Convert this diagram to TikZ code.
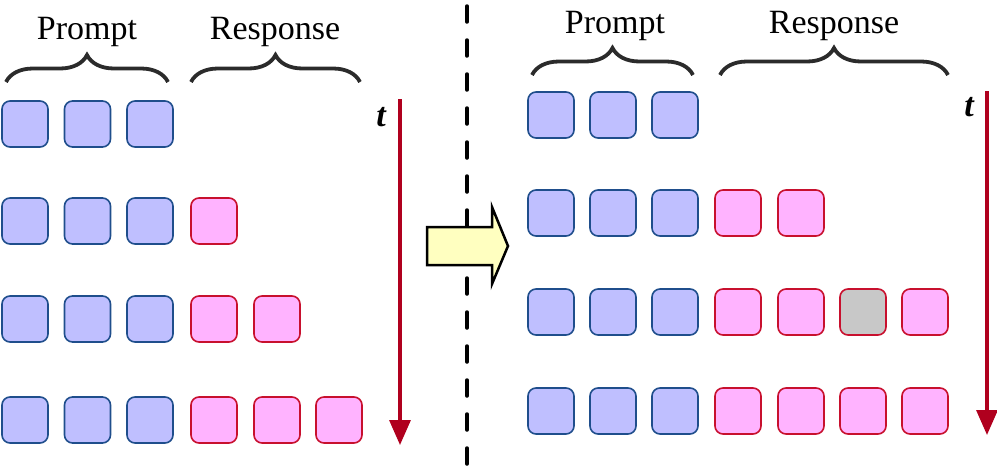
\documentclass[tikz,border=0pt]{standalone}
\usepackage{fontspec}
\setmainfont{Liberation Serif}
\usetikzlibrary{decorations.pathreplacing,arrows.meta}
\definecolor{pfill}{HTML}{BFBFFF}
\definecolor{pdraw}{HTML}{1F4E8C}
\definecolor{rfill}{HTML}{FFB3FF}
\definecolor{rdraw}{HTML}{C8102E}
\definecolor{gfill}{HTML}{C8C8C8}
\definecolor{tred}{HTML}{B0001E}
\definecolor{bracecol}{HTML}{2B2B2B}
\definecolor{yfill}{HTML}{FFFFC0}
\tikzset{
  tok/.style={minimum size=46pt,inner sep=0pt,rounded corners=8pt,line width=1.6pt},
  ptok/.style={tok,fill=pfill,draw=pdraw},
  rtok/.style={tok,fill=rfill,draw=rdraw},
  gtok/.style={tok,fill=gfill,draw=rdraw},
  bracebr/.style={decorate,decoration={brace,amplitude=27pt},line width=3.8pt,draw=bracecol},
  lbl/.style={font=\fontsize{34}{38}\selectfont,inner sep=0pt,anchor=base},
  tlbl/.style={font=\fontsize{34}{38}\selectfont\bfseries\itshape,inner sep=0pt,anchor=base},
  tarrow/.style={draw=tred,line width=3.3pt,-{Triangle[length=25pt,width=21pt]}},
  bigarrow/.style={draw=black,fill=yfill,line width=2.5pt,line join=miter},
}
\begin{document}
\begin{tikzpicture}[x=1pt,y=-1pt]
\useasboundingbox (0,0) rectangle (997,466);
% dashed separator
\coordinate (dtop) at (467,6);
\coordinate (dbot) at (467,466);
\draw[line width=3.5pt,line cap=round,dash pattern=on 16pt off 18pt] (dtop) -- (dbot);
% left labels and braces
\node[lbl] (lp) at (87,39) {Prompt};
\node[lbl] (lr) at (275,39) {Response};
\coordinate (lpb1) at (6,82); \coordinate (lpb2) at (168,82);
\coordinate (lrb1) at (191,82); \coordinate (lrb2) at (360,82);
\draw[bracebr] (lpb1) -- (lpb2);
\draw[bracebr] (lrb1) -- (lrb2);
% left tokens
\foreach \r/\y in {1/124,2/221,3/319,4/420}{
  \foreach \c/\x in {1/25,2/87.5,3/150}{
    \node[ptok] (L\r p\c) at (\x,\y) {};
  }
}
\node[rtok] (L2r1) at (214,221) {};
\node[rtok] (L3r1) at (214,319) {};
\node[rtok] (L3r2) at (277,319) {};
\node[rtok] (L4r1) at (214,420) {};
\node[rtok] (L4r2) at (277,420) {};
\node[rtok] (L4r3) at (339,420) {};
% left time arrow
\node[tlbl] (lt) at (381,126) {t};
\coordinate (la1) at (400,99);
\coordinate (la2) at (400,445);
\draw[tarrow] (la1) -- (la2);
% right labels and braces
\node[lbl] (rp) at (615,33) {Prompt};
\node[lbl] (rr) at (834,33) {Response};
\coordinate (rpb1) at (532,75); \coordinate (rpb2) at (693,75);
\coordinate (rrb1) at (720,75); \coordinate (rrb2) at (948,75);
\draw[bracebr] (rpb1) -- (rpb2);
\draw[bracebr] (rrb1) -- (rrb2);
% right tokens
\foreach \r/\y in {1/115,2/213,3/312,4/411}{
  \foreach \c/\x in {1/551,2/613,3/675}{
    \node[ptok] (R\r p\c) at (\x,\y) {};
  }
}
\node[rtok] (R2r1) at (738,213) {};
\node[rtok] (R2r2) at (801,213) {};
\node[rtok] (R3r1) at (738,312) {};
\node[rtok] (R3r2) at (801,312) {};
\node[gtok] (R3r3) at (863,312) {};
\node[rtok] (R3r4) at (925,312) {};
\node[rtok] (R4r1) at (738,411) {};
\node[rtok] (R4r2) at (801,411) {};
\node[rtok] (R4r3) at (863,411) {};
\node[rtok] (R4r4) at (925,411) {};
% right time arrow
\node[tlbl] (rt) at (969,116) {t};
\coordinate (ra1) at (987,91);
\coordinate (ra2) at (987,435);
\draw[tarrow] (ra1) -- (ra2);
% transition arrow
\draw[bigarrow] (427,227) -- (492,227) -- (492,207) -- (508,246) -- (492,284) -- (492,265) -- (427,265) -- cycle;
\end{tikzpicture}
\end{document}
